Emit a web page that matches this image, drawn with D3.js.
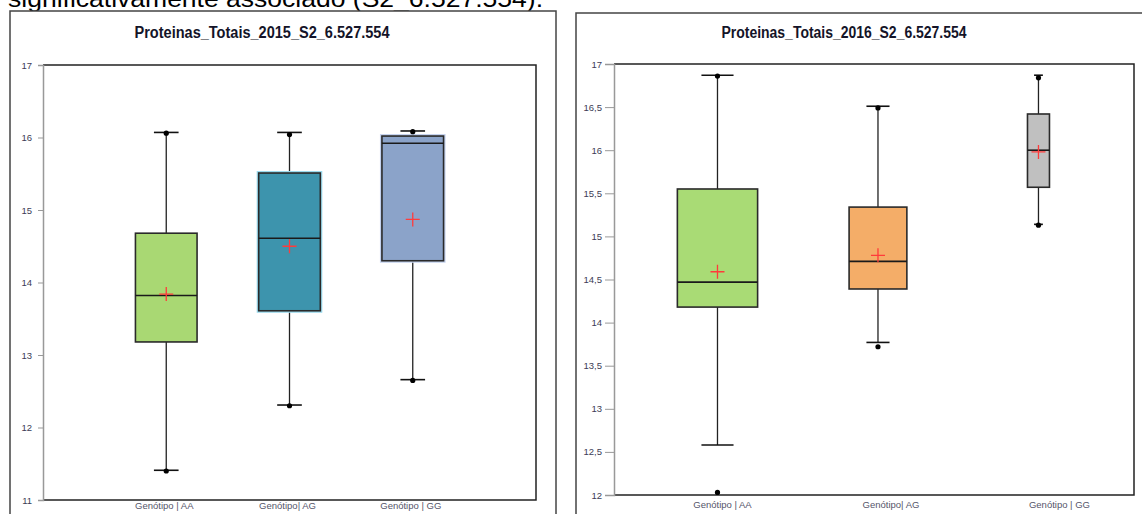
<!DOCTYPE html>
<html>
<head>
<meta charset="utf-8">
<script src="https://cdn.jsdelivr.net/npm/d3@7/dist/d3.min.js"></script>
<style>
  html, body { margin: 0; padding: 0; background: #fff; }
  svg { display: block; }
</style>
</head>
<body>
<svg id="fig" width="1142" height="514"></svg>
<script>
// ---- data ----
const genotypes = ["Genótipo | AA", "Genótipo| AG", "Genótipo | GG"];

// 2015 season
const low2015    = [11.41, 12.31, 12.66];
const q1_2015    = [13.18, 13.61, 14.30];
const median2015 = [13.82, 14.61, 15.92];
const q3_2015    = [14.68, 15.51, 16.02];
const high2015   = [16.07, 16.07, 16.09];
const mean2015   = [13.84, 14.50, 14.87];
const points2015 = [[16.06, 11.40], [16.04, 12.30], [16.08, 12.65]];
const ticks2015  = [11, 12, 13, 14, 15, 16, 17];

// 2016 season
const low2016    = [12.58, 13.77, 15.14];
const q1_2016    = [14.18, 14.39, 15.57];
const median2016 = [14.47, 14.71, 16.00];
const q3_2016    = [15.55, 15.34, 16.42];
const high2016   = [16.87, 16.51, 16.87];
const mean2016   = [14.59, 14.78, 15.98];
const points2016 = [[16.86, 12.03], [16.49, 13.72], [16.84, 15.13]];
const ticks2016  = [12, 12.5, 13, 13.5, 14, 14.5, 15, 15.5, 16, 16.5, 17];

const svg = d3.select("#fig");
const ptFormat = d3.formatLocale({decimal: ",", thousands: ".", grouping: [3], currency: ["", ""]}).format("~g");

// caption line running above the figures
svg.append("text")
  .attr("x", 8).attr("y", 7)
  .attr("font-family", "Liberation Sans, Arial, sans-serif")
  .attr("font-size", 24)
  .attr("textLength", 535).attr("lengthAdjust", "spacingAndGlyphs")
  .attr("fill", "#000")
  .text("significativamente associado (S2_6.527.554).");

function drawPanel(cfg) {
  const g = svg.append("g");

  // panel frame
  g.append("rect")
    .attr("x", cfg.frame[0]).attr("y", cfg.frame[1])
    .attr("width", cfg.frame[2]).attr("height", cfg.frame[3])
    .attr("fill", "#fff").attr("stroke", "#444").attr("stroke-width", 1.5);

  // title
  g.append("text")
    .attr("x", cfg.titleX).attr("y", 38)
    .attr("text-anchor", "middle")
    .attr("font-family", "Liberation Sans Narrow, Arial Narrow, Liberation Sans, sans-serif")
    .attr("font-weight", "bold").attr("font-size", 16)
    .attr("textLength", cfg.titleW).attr("lengthAdjust", "spacingAndGlyphs")
    .attr("fill", "#141428")
    .text(cfg.title);

  const y = d3.scaleLinear().domain(cfg.yDomain).range([cfg.plot.bottom, cfg.plot.top]);
  const x = d3.scalePoint().domain(genotypes)
    .range([cfg.plot.left, cfg.plot.right]).padding(cfg.xPad).align(cfg.xAlign);
  const xLab = d3.scalePoint().domain(genotypes)
    .range([cfg.plot.left, cfg.plot.right]).padding(cfg.labPad).align(cfg.labAlign);

  // plot frame: top, right, bottom in dark, left axis in grey
  g.append("path")
    .attr("d", `M${cfg.plot.left},${cfg.plot.top}H${cfg.plot.right}V${cfg.plot.bottom}H${cfg.plot.left}`)
    .attr("fill", "none").attr("stroke", "#222").attr("stroke-width", 1.5);

  const yAxis = g.append("g")
    .attr("transform", `translate(${cfg.plot.left},0)`)
    .call(d3.axisLeft(y).tickValues(cfg.ticks).tickFormat(ptFormat).tickSize(cfg.tickLen).tickPadding(cfg.tickPad));
  yAxis.select(".domain").attr("stroke", "#999").attr("stroke-width", 1.5);
  yAxis.selectAll(".tick line").attr("stroke", "#999").attr("stroke-width", 1);
  yAxis.selectAll(".tick text")
    .attr("font-family", "Liberation Sans, Arial, sans-serif")
    .attr("font-size", 9.5).attr("fill", "#3c3c55");

  const xAxis = g.append("g")
    .attr("transform", `translate(0,${cfg.plot.bottom})`)
    .call(d3.axisBottom(xLab).tickSize(0).tickPadding(cfg.labPadPx));
  xAxis.select(".domain").remove();
  xAxis.selectAll(".tick text")
    .attr("font-family", "Liberation Sans, Arial, sans-serif")
    .attr("font-size", 9.5).attr("fill", "#55556a");

  const rows = genotypes.map((k, i) => ({
    k, i,
    low: cfg.low[i], q1: cfg.q1[i], med: cfg.median[i], q3: cfg.q3[i],
    high: cfg.high[i], mean: cfg.mean[i], pts: cfg.points[i],
    w: x.step() * cfg.widths[i], fill: cfg.colors[i], glow: cfg.glows[i]
  }));

  const box = g.selectAll("g.box").data(rows).join("g").attr("class", "box");

  // whiskers
  box.append("line")
    .attr("x1", d => x(d.k)).attr("x2", d => x(d.k))
    .attr("y1", d => y(d.high)).attr("y2", d => y(d.q3))
    .attr("stroke", "#222").attr("stroke-width", 1.3);
  box.append("line")
    .attr("x1", d => x(d.k)).attr("x2", d => x(d.k))
    .attr("y1", d => y(d.q1)).attr("y2", d => y(d.low))
    .attr("stroke", "#222").attr("stroke-width", 1.3);
  // whisker caps
  ["high", "low"].forEach(f => {
    box.append("line")
      .attr("x1", d => x(d.k) - d.w * 0.2).attr("x2", d => x(d.k) + d.w * 0.2)
      .attr("y1", d => y(d[f])).attr("y2", d => y(d[f]))
      .attr("stroke", "#111").attr("stroke-width", 1.6);
  });

  // soft halo around some boxes
  box.filter(d => d.glow)
    .append("rect")
    .attr("x", d => x(d.k) - d.w / 2).attr("width", d => d.w)
    .attr("y", d => y(d.q3)).attr("height", d => y(d.q1) - y(d.q3))
    .attr("fill", "none").attr("stroke", d => d.glow).attr("stroke-width", 4);

  // interquartile boxes
  box.append("rect")
    .attr("x", d => x(d.k) - d.w / 2).attr("width", d => d.w)
    .attr("y", d => y(d.q3)).attr("height", d => y(d.q1) - y(d.q3))
    .attr("fill", d => d.fill).attr("stroke", "#2a2a2a").attr("stroke-width", 1.6);

  // median
  box.append("line")
    .attr("x1", d => x(d.k) - d.w / 2).attr("x2", d => x(d.k) + d.w / 2)
    .attr("y1", d => y(d.med)).attr("y2", d => y(d.med))
    .attr("stroke", "#1a1a1a").attr("stroke-width", 1.6);

  // extreme observations
  box.selectAll("circle").data(d => d.pts.map(v => ({k: d.k, v}))).join("circle")
    .attr("cx", d => x(d.k)).attr("cy", d => y(d.v)).attr("r", 2.6)
    .attr("fill", "#000");

  // mean marker
  box.append("path")
    .attr("d", d => {
      const cx = x(d.k), cy = y(d.mean);
      return `M${cx - 7},${cy}H${cx + 7}M${cx},${cy - 7}V${cy + 7}`;
    })
    .attr("stroke", "#ff3b3b").attr("stroke-width", 1.3).attr("fill", "none");
}

drawPanel({
  frame: [10, 11, 546, 520],
  title: "Proteinas_Totais_2015_S2_6.527.554", titleX: 262, titleW: 255,
  plot: {left: 43, right: 536, top: 65, bottom: 500},
  yDomain: [11, 17], ticks: ticks2015, tickLen: 5, tickPad: 6,
  xPad: 1, xAlign: 0.5, labPad: 1, labAlign: 0.49, labPadPx: 2,
  low: low2015, q1: q1_2015, median: median2015, q3: q3_2015,
  high: high2015, mean: mean2015, points: points2015,
  widths: [0.5, 0.5, 0.5],
  colors: ["#a9d873", "#3d94ad", "#8ba3c9"],
  glows: [null, "#9ad9ec", "#c4d2ee"]
});

drawPanel({
  frame: [576, 13, 600, 520],
  title: "Proteinas_Totais_2016_S2_6.527.554", titleX: 844, titleW: 245,
  plot: {left: 614, right: 1134, top: 64, bottom: 495},
  yDomain: [12, 17], ticks: ticks2016, tickLen: 9, tickPad: 3,
  xPad: 0.62, xAlign: 0.52, labPad: 0.543, labAlign: 0.59, labPadPx: 6,
  low: low2016, q1: q1_2016, median: median2016, q3: q3_2016,
  high: high2016, mean: mean2016, points: points2016,
  widths: [0.5, 0.36, 0.137],
  colors: ["#a9db75", "#f4ad68", "#c0c0c0"],
  glows: [null, null, null]
});
</script>
</body>
</html>
